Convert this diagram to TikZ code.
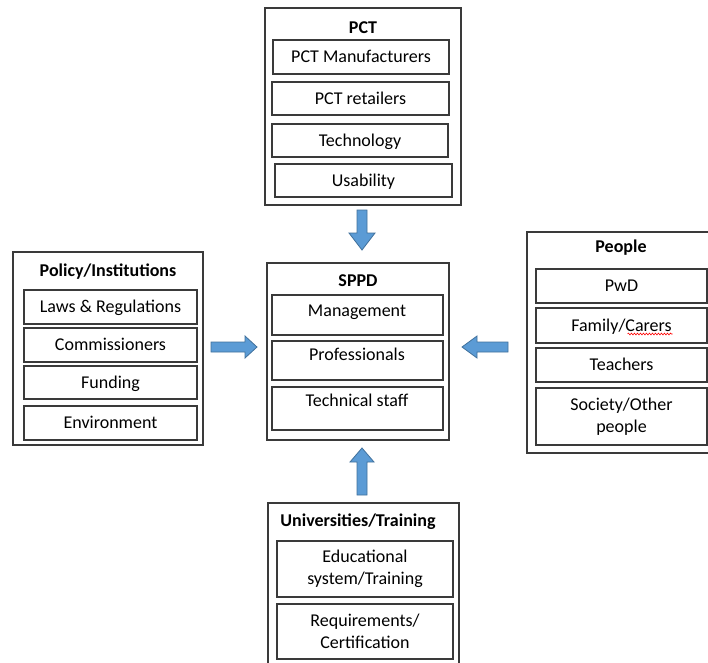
\documentclass[tikz,border=0pt]{standalone}
\usepackage{fontspec}
\setmainfont{Carlito}
\usetikzlibrary{decorations.pathmorphing}
\definecolor{arrowfill}{HTML}{5B9BD5}
\definecolor{arrowline}{HTML}{41719C}
\definecolor{boxline}{HTML}{3A3A3A}
\newcommand\mybox[6]{\node[boxst, minimum width={(#4)-(#2)}, minimum height={(#5)-(#3)}] (#1) at (#2,#3) {#6};}
\newcommand\mylinebox[6]{\node[boxst, oneline, minimum width={(#4)-(#2)}, minimum height={(#5)-(#3)}] (#1) at (#2,#3) {#6};}
\begin{document}
\begin{tikzpicture}[x=1pt,y=-1pt,
  boxst/.style={draw=boxline, line width=1.3pt, rectangle, anchor=north west, outer sep=0pt, inner sep=0pt, align=center, font=\fontsize{18}{22}\selectfont},
  oneline/.style={text height=15pt, text depth=3.8pt},
  titlest/.style={font=\fontsize{18}{22}\selectfont\bfseries, inner sep=0pt, text height=15pt, text depth=3.8pt},
  txtst/.style={font=\fontsize{18}{22}\selectfont, inner sep=0pt, text height=15pt, text depth=3.8pt},
  blockarrow/.style={fill=arrowfill, draw=arrowline, line width=0.8pt, line join=miter}]
\useasboundingbox (0,0) rectangle (708,662);
\clip (0,0) rectangle (708,662);
\fill[white] (0,0) rectangle (708,662);

% PCT
\mybox{pct}{265}{8}{461}{205}{}
\node[titlest] (pctT) at (363,28) {PCT};
\mylinebox{pctman}{273}{40}{449}{74}{PCT Manufacturers}
\mylinebox{pctret}{272}{82}{449}{115}{PCT retailers}
\mylinebox{tech}{272}{124}{448}{157}{Technology}
\mylinebox{usab}{275}{164}{452}{197}{Usability}

% Policy/Institutions
\mybox{pol}{13}{252}{203}{445}{}
\node[titlest] (polT) at (108,271) {Policy/Institutions};
\mylinebox{laws}{24}{290}{197}{324}{Laws \& Regulations}
\mylinebox{comm}{24}{328}{197}{362}{Commissioners}
\mylinebox{fund}{24}{366}{197}{399}{Funding}
\mylinebox{env}{24}{406}{197}{440}{Environment}

% People
\mybox{ppl}{527}{232}{720}{453}{}
\node[titlest] (pplT) at (621,247) {People};
\mylinebox{pwd}{536}{269}{707}{303}{PwD}
\mylinebox{fam}{536}{308}{707}{343}{Family/Carers}
\mylinebox{teach}{536}{348}{707}{382}{Teachers}
\mybox{soc}{536}{388}{707}{445}{Society/Other\\people}
\draw[red, line width=0.6pt, decorate, decoration={snake, amplitude=0.9pt, segment length=3pt}]
  ([xshift=6pt,yshift=-8.5pt]fam.center) -- ([xshift=51pt,yshift=-8.5pt]fam.center);

% SPPD
\mybox{sppd}{267}{263}{449}{440}{}
\node[titlest] (sppdT) at (358,281) {SPPD};
\mybox{mgmt}{272}{295}{443}{335}{}
\node[txtst] (mgmtT) at (357,311) {Management};
\mybox{prof}{272}{341}{443}{380}{}
\node[txtst] (profT) at (357,355) {Professionals};
\mybox{techst}{272}{387}{443}{430}{}
\node[txtst] (techstT) at (357,401) {Technical staff};

% Universities/Training
\mybox{uni}{268}{503}{459}{720}{}
\node[titlest] (uniT) at (358,521) {Universities/Training};
\mybox{edu}{277}{541}{453}{597}{Educational\\system/Training}
\mybox{req}{277}{604}{453}{659}{Requirements/\\Certification}

% block arrows
\draw[blockarrow] (357,210) -- (367,210) -- (367,233) -- (375,233) -- (362,250) -- (349,233) -- (357,233) -- cycle;
\draw[blockarrow] (357,495) -- (367,495) -- (367,462) -- (374,462) -- (362,448) -- (350,462) -- (357,462) -- cycle;
\draw[blockarrow] (211,342) -- (245,342) -- (245,336) -- (257,347) -- (245,358) -- (245,352) -- (211,352) -- cycle;
\draw[blockarrow] (508,342) -- (477,342) -- (477,336) -- (462,347) -- (477,358) -- (477,352) -- (508,352) -- cycle;
\end{tikzpicture}
\end{document}
